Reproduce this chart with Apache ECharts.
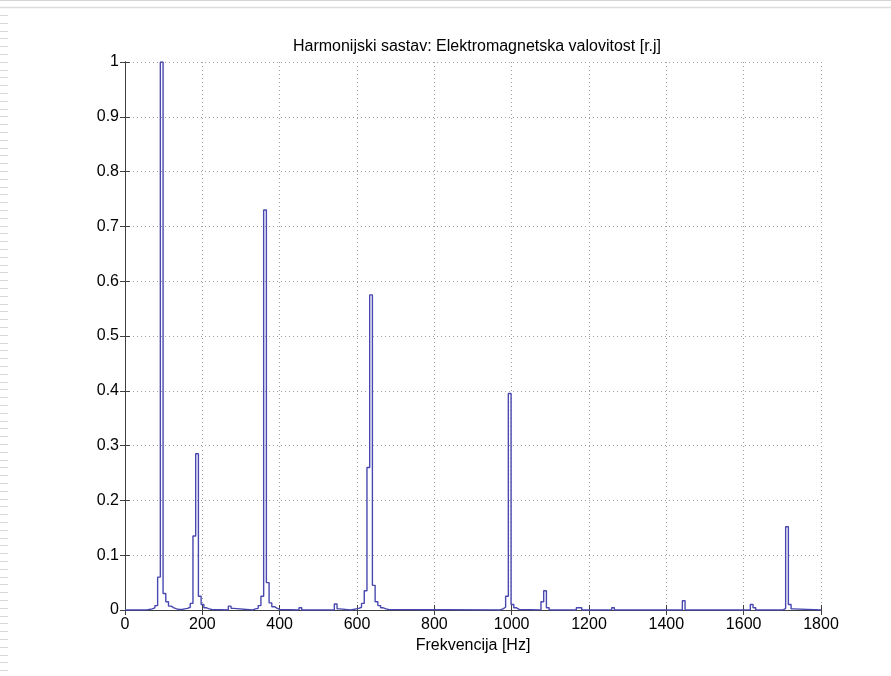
<!DOCTYPE html>
<html>
<head>
<meta charset="utf-8">
<script src="https://cdn.jsdelivr.net/npm/echarts@6/dist/echarts.min.js"></script>
<style>
html,body{margin:0;padding:0;background:#fff;}
#chart{width:891px;height:676px;}
</style>
</head>
<body>
<div id="chart"></div>
<script>
// Spectrum samples (FFT bins, Hz) and amplitudes [r.j]; drawn as stairs
const freqHz = [0,
  56.25, 63.28, 70.31, 77.34, 84.38, 91.41, 98.44, 105.47, 112.5, 119.53, 126.56, 133.59,
  140.63, 147.66, 154.69, 161.72, 168.75, 175.78, 182.81, 189.84, 196.88, 203.91, 210.94, 217.97, 225.0,
  267.19, 274.22, 281.25,
  330.47, 337.5, 344.53, 351.56, 358.59, 365.63, 372.66, 379.69, 386.72, 393.75, 400.78,
  450.0, 457.03,
  541.41, 548.44, 555.47,
  583.59, 590.63, 597.66, 604.69, 611.72, 618.75, 625.78, 632.81, 639.84, 646.88, 653.91, 660.94, 667.97, 675.0, 682.03,
  970.31, 977.34, 984.38, 991.41, 998.44, 1005.47, 1012.5, 1019.53,
  1075.78, 1082.81, 1089.84, 1096.88,
  1167.19, 1174.22, 1181.25,
  1258.59, 1265.63,
  1441.41, 1448.44,
  1617.19, 1624.22, 1631.25,
  1701.56, 1708.59, 1715.63, 1722.66, 1729.69,
  1800];
const amplitude = [0,
  0.001, 0.002, 0.004, 0.008, 0.06, 1.0, 0.03, 0.015, 0.007, 0.004, 0.002, 0.001,
  0.001, 0.002, 0.003, 0.005, 0.012, 0.135, 0.285, 0.025, 0.01, 0.004, 0.002, 0.001, 0,
  0.007, 0.003, 0,
  0.002, 0.003, 0.008, 0.025, 0.73, 0.05, 0.013, 0.006, 0.003, 0.001, 0,
  0.004, 0,
  0.011, 0.002, 0,
  0.001, 0.002, 0.003, 0.005, 0.012, 0.035, 0.26, 0.575, 0.045, 0.015, 0.008, 0.004, 0.002, 0.001, 0,
  0.002, 0.005, 0.025, 0.395, 0.01, 0.004, 0.001, 0,
  0.015, 0.035, 0.004, 0,
  0.004, 0.004, 0,
  0.004, 0,
  0.017, 0,
  0.01, 0.004, 0,
  0.003, 0.152, 0.01, 0.002, 0,
  0];
const xTicks = [0, 200, 400, 600, 800, 1000, 1200, 1400, 1600, 1800];
const yTicks = [0, 0.1, 0.2, 0.3, 0.4, 0.5, 0.6, 0.7, 0.8, 0.9, 1];
const titleText = 'Harmonijski sastav: Elektromagnetska valovitost [r.j]';
const xName = 'Frekvencija [Hz]';

const FONT = '"Liberation Sans", Arial, sans-serif';
const seriesData = freqHz.map((f, i) => [f, amplitude[i]]);

// page decorations (document frame)
const deco = [
  {type:'line', shape:{x1:0,y1:0.5,x2:891,y2:0.5}, style:{stroke:'#d4d4d4',lineWidth:1}},
  {type:'line', shape:{x1:0,y1:7.5,x2:891,y2:7.5}, style:{stroke:'#dcdcdc',lineWidth:1.5}}
];
for (let y = 15; y < 676; y += 7.8) {
  deco.push({type:'line', shape:{x1:0,y1:Math.round(y)+0.5,x2:8,y2:Math.round(y)+0.5}, style:{stroke:'#d8d8d8',lineWidth:1}});
}

const axisLineStyle = {color:'#404040', width:1};
const gridSplit = {show:true, lineStyle:{color:'#a0a0a0', type:[1,3], width:1}};

const chart = echarts.init(document.getElementById('chart'), null, {renderer:'canvas'});
chart.setOption({
  animation:false,
  backgroundColor:'#ffffff',
  title:{
    text:titleText, left:472, top:34, textAlign:'center',
    textStyle:{fontFamily:FONT, fontSize:16, fontWeight:'normal', color:'#000'}
  },
  grid:{left:125, right:70, top:62, bottom:66, containLabel:false},
  xAxis:[{
    type:'value', min:xTicks[0], max:xTicks[xTicks.length-1], interval:200,
    name:xName, nameLocation:'middle', nameGap:28,
    nameTextStyle:{fontFamily:FONT, fontSize:16, color:'#000'},
    axisLine:{show:true, lineStyle:axisLineStyle},
    axisTick:{show:true, inside:true, length:5, lineStyle:axisLineStyle},
    axisLabel:{fontFamily:FONT, fontSize:16, color:'#000', margin:7,
      formatter:v => String(v)},
    splitLine:gridSplit
  },{
    type:'value', position:'top', min:xTicks[0], max:xTicks[xTicks.length-1], interval:200,
    axisLine:{show:true, lineStyle:axisLineStyle},
    axisTick:{show:true, inside:true, length:5, lineStyle:axisLineStyle},
    axisLabel:{show:false}, splitLine:{show:false}
  }],
  yAxis:[{
    type:'value', min:yTicks[0], max:yTicks[yTicks.length-1], interval:0.1,
    axisLine:{show:true, lineStyle:axisLineStyle},
    axisTick:{show:true, inside:true, length:5, lineStyle:axisLineStyle},
    axisLabel:{fontFamily:FONT, fontSize:16, color:'#000', margin:6,
      formatter:v => String(Math.round(v*10)/10)},
    splitLine:gridSplit
  },{
    type:'value', position:'right', min:yTicks[0], max:yTicks[yTicks.length-1], interval:0.1,
    axisLine:{show:true, lineStyle:axisLineStyle},
    axisTick:{show:true, inside:true, length:5, lineStyle:axisLineStyle},
    axisLabel:{show:false}, splitLine:{show:false}
  }],
  series:[{
    type:'line', step:'end', data:seriesData, xAxisIndex:0, yAxisIndex:0,
    showSymbol:false, symbol:'none', clip:true,
    lineStyle:{color:'#4848b0', width:1.4}
  }],
  graphic:deco
});
</script>
</body>
</html>
